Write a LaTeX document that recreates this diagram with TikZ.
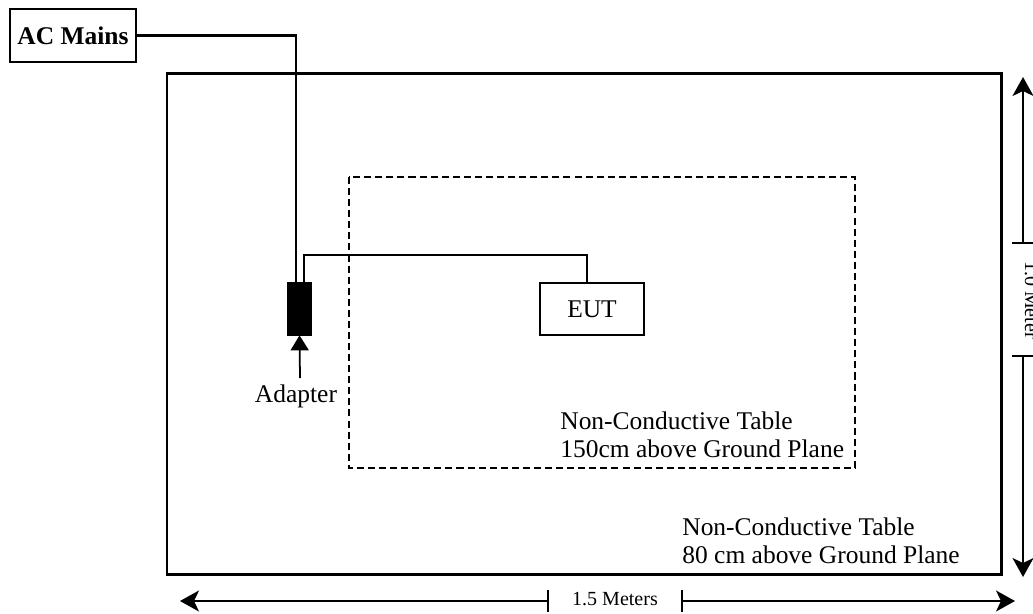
\documentclass[tikz,border=0pt]{standalone}
\usepackage{fontspec}
\setmainfont{Liberation Serif}
\usepackage{xcolor}
\usetikzlibrary{arrows.meta}

\tikzset{
  lbl/.style={font=\fontsize{14.5}{15.9}\selectfont,inner sep=0pt},
  box/.style={lbl,draw,line width=1pt},
  dimtext/.style={font=\fontsize{11.4}{13}\selectfont,inner sep=0pt},
  dimline/.style={line width=1pt,{Bar[width=0.44cm]}-{Stealth[length=0.38cm,width=0.42cm,inset=0.1cm]}},
  wire/.style={line width=1.6pt}
}

\begin{document}
\begin{tikzpicture}[x=0.02cm,y=-0.02cm]
  \useasboundingbox (0,0) rectangle (1033,613);
  % tables
  \draw[line width=1.7pt] (167,73) rectangle (1001,574); %outer
  \draw[line width=1.1pt,dash pattern=on 4pt off 2.3pt] (349,177) rectangle (855,468); %inner
  % boxes
  \node[box,minimum width=2.52cm,minimum height=1.06cm] (mains) at (73,35.5) {\textbf{AC Mains}};
  \node[draw,fill=black,inner sep=0pt,minimum width=0.48cm,minimum height=1.06cm] (adapter) at (299.5,308.5) {};
  \node[box,minimum width=2.08cm,minimum height=1.04cm] (eut) at (592,309) {EUT};
  % wires
  \draw[wire] (mains.east) -| ([xshift=-0.07cm]adapter.north);
  \draw[line width=1pt] ([xshift=0.09cm]adapter.north) -- ++(0,-27) -| ([xshift=-0.1cm]eut.north);
  % adapter label
  \node[lbl,anchor=base] (adlbl) at (296,402) {Adapter};
  \coordinate (adtail) at (300,378);
  \draw[line width=1pt,-{Triangle[length=0.3cm,width=0.36cm]}] (adtail) -- (adapter.south);
  % table texts
  \node[lbl,anchor=north west,align=left] (intxt) at (560,411.5) {Non-Conductive Table\\150cm above Ground Plane};
  \node[lbl,anchor=north west,align=left] (outtxt) at (682,517.5) {Non-Conductive Table\\80 cm above Ground Plane};
  % width
  \node[dimtext,anchor=base] (wtxt) at (615,605) {1.5 Meters};
  \coordinate (wl) at (180,601);
  \coordinate (wlt) at (549,601);
  \coordinate (wr) at (1015,601);
  \coordinate (wrt) at (681,601);
  \draw[dimline] (wlt) -- (wl);
  \draw[dimline] (wrt) -- (wr);
  % depth
  \node[dimtext,anchor=base,rotate=-90] (dtxt) at (1025,300) {1.0 Meter};
  \coordinate (dt) at (1023,77);
  \coordinate (dtt) at (1023,244);
  \coordinate (db) at (1023,577);
  \coordinate (dbt) at (1023,355);
  \draw[dimline] (dtt) -- (dt);
  \draw[dimline] (dbt) -- (db);
\end{tikzpicture}
\end{document}
